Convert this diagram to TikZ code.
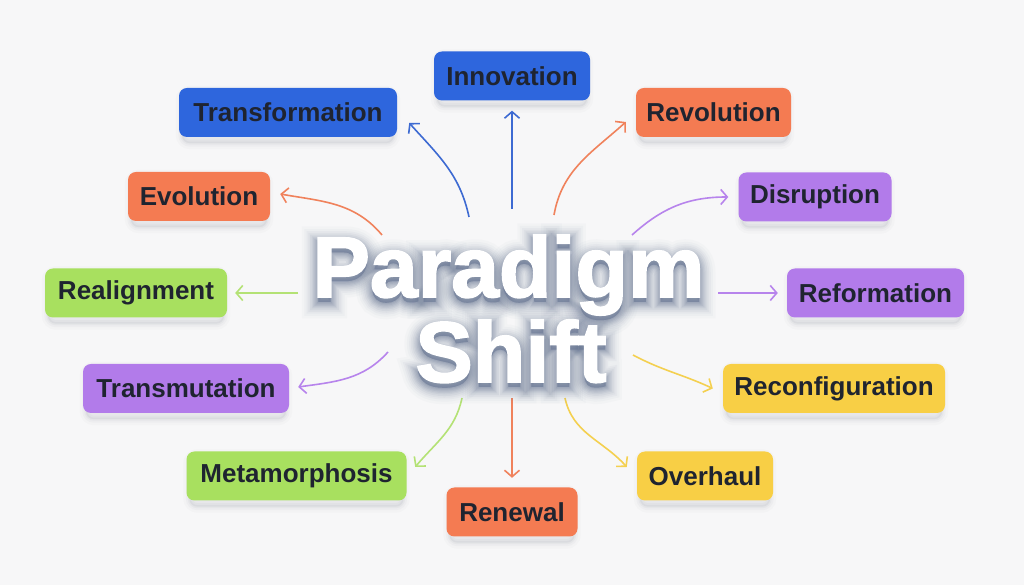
\documentclass[tikz,border=0pt]{standalone}
\usepackage{fontspec}
\setmainfont{Liberation Sans}
\newfontfamily\ttlfont[FakeBold=2]{Liberation Sans Bold}
\newfontfamily\shA[FakeBold=3]{Liberation Sans Bold}
\newfontfamily\shB[FakeBold=6]{Liberation Sans Bold}
\newfontfamily\shC[FakeBold=9]{Liberation Sans Bold}
\newfontfamily\shD[FakeBold=12]{Liberation Sans Bold}
\newfontfamily\shE[FakeBold=15]{Liberation Sans Bold}
\newfontfamily\shF[FakeBold=19]{Liberation Sans Bold}
\newfontfamily\shG[FakeBold=23]{Liberation Sans Bold}
\newfontfamily\shH[FakeBold=27]{Liberation Sans Bold}
\newfontfamily\shI[FakeBold=32]{Liberation Sans Bold}
\newfontfamily\shJ[FakeBold=38]{Liberation Sans Bold}
\usetikzlibrary{arrows.meta,calc}
\pgfdeclarelayer{bgl}
\pgfdeclarelayer{shl}
\pgfsetlayers{bgl,shl,main}
\definecolor{bg}{HTML}{F7F7F8}
\definecolor{txt}{HTML}{1F2430}
\definecolor{cblue}{HTML}{2E66DD}
\definecolor{corange}{HTML}{F47B52}
\definecolor{cpurple}{HTML}{B27BEA}
\definecolor{cgreen}{HTML}{A8E05F}
\definecolor{cyellow}{HTML}{F8CF45}
\definecolor{ablue}{HTML}{3D6AD2}
\definecolor{aorange}{HTML}{F0825C}
\definecolor{apurple}{HTML}{B784EC}
\definecolor{agreen}{HTML}{B4E275}
\definecolor{ayellow}{HTML}{F4D050}
\definecolor{tshadow}{HTML}{6A7895}
\definecolor{bshadow}{HTML}{5A6478}
\begin{document}
\begin{tikzpicture}[x=1pt,y=1pt,
  box/.style={rounded corners=8pt, minimum height=49pt, inner sep=0pt,
    font=\fontsize{26}{30}\selectfont\bfseries, text=txt},
  conn/.style={line width=1.6pt, -{Straight Barb[length=6.5pt,width=15pt]}},
  ttl/.style={anchor=base, inner sep=0pt, font=\fontsize{86}{86}\selectfont\ttlfont},
  tsh/.style={anchor=base, inner sep=0pt, text=tshadow},
  shl1/.style={draw=bshadow, line width=12pt, draw opacity=0.025, rounded corners=8pt},
  shl2/.style={draw=bshadow, line width=7pt, draw opacity=0.035, rounded corners=8pt},
  shl3/.style={draw=bshadow, line width=3pt, draw opacity=0.05, rounded corners=8pt},
  shl4/.style={fill=bshadow, fill opacity=0.08, rounded corners=8pt},
]
\begin{pgfonlayer}{bgl}
\fill[bg] (0,0) rectangle (1024,585);
\end{pgfonlayer}
\useasboundingbox (0,0) rectangle (1024,585);

% boxes
\node[box, fill=cblue, minimum width=156pt] (inn) at (512,509) {Innovation};
\node[box, fill=cblue, minimum width=218pt] (trf) at (288,472.5) {Transformation};
\node[box, fill=corange, minimum width=155pt] (rev) at (713.5,472.5) {Revolution};
\node[box, fill=corange, minimum width=142pt] (evo) at (199,388.5) {Evolution};
\node[box, fill=cpurple, minimum width=153pt] (dis) at (815,388) {Disruption};
\node[box, fill=cgreen, minimum width=182pt] (rea) at (136,292) {Realignment};
\node[box, fill=cpurple, minimum width=177pt] (ref) at (875.5,292) {Reformation};
\node[box, fill=cpurple, minimum width=206pt] (trm) at (186,196.5) {Transmutation};
\node[box, fill=cyellow, minimum width=222pt] (rec) at (834,196.5) {Reconfiguration};
\node[box, fill=cgreen, minimum width=220pt] (met) at (296.5,109) {Metamorphosis};
\node[box, fill=cyellow, minimum width=136pt] (ove) at (705,109) {Overhaul};
\node[box, fill=corange, minimum width=131pt] (ren) at (512,73) {Renewal};

% box shadows
\begin{pgfonlayer}{shl}
\foreach \n in {inn,trf,rev,evo,dis,rea,ref,trm,rec,met,ove,ren}{
  \path[shl1] ([shift={(3,-6)}]\n.south west) rectangle ([shift={(-3,-4)}]\n.north east);
  \path[shl2] ([shift={(3,-6)}]\n.south west) rectangle ([shift={(-3,-4)}]\n.north east);
  \path[shl3] ([shift={(3,-6)}]\n.south west) rectangle ([shift={(-3,-4)}]\n.north east);
  \path[shl4] ([shift={(3,-6)}]\n.south west) rectangle ([shift={(-3,-4)}]\n.north east);
}
\end{pgfonlayer}

% start points
\coordinate (s1) at (469,368);
\coordinate (s2) at (512,376);
\coordinate (s3) at (554,370);
\coordinate (s4) at (382,350);
\coordinate (s5) at (632,350);
\coordinate (s6) at (298,292);
\coordinate (s7) at (718,292);
\coordinate (s8) at (388,233);
\coordinate (s9) at (633,230);
\coordinate (s10) at (462,187);
\coordinate (s11) at (512,187);
\coordinate (s12) at (565,187);

% connectors
\draw[conn, ablue] (s1) to[out=102,in=-48] ([shift={(12,-10.5)}]trf.east);
\draw[conn, ablue] (s2) -- ([shift={(0,-10)}]inn.south);
\draw[conn, aorange] (s3) to[out=80,in=-138] ([shift={(-10,-9.5)}]rev.west);
\draw[conn, aorange] (s4) to[out=130,in=-10] ([shift={(10,2.5)}]evo.east);
\draw[conn, apurple] (s5) to[out=42,in=180] ([shift={(-10,0)}]dis.west);
\draw[conn, agreen] (s6) -- ([shift={(8,0)}]rea.east);
\draw[conn, apurple] (s7) -- ([shift={(-9,0)}]ref.west);
\draw[conn, apurple] (s8) to[out=-132,in=8] ([shift={(9,1.5)}]trm.east);
\draw[conn, ayellow] (s9) to[out=-28,in=155] ([shift={(-10,0)}]rec.west);
\draw[conn, agreen] (s10) to[out=-102,in=50] ([shift={(8.5,9)}]met.east);
\draw[conn, aorange] (s11) -- ([shift={(0,9.5)}]ren.north);
\draw[conn, ayellow] (s12) to[out=-78,in=132] ([shift={(-10,9)}]ove.west);

% title shadow (emboldened copies, soft halo)
\foreach \f/\op [count=\i] in {\shJ/0.03,\shI/0.04,\shH/0.05,\shG/0.06,\shF/0.08,\shE/0.09,\shD/0.10,\shC/0.12,\shB/0.14,\shA/0.16}{
  \node[tsh, text opacity=\op, font=\fontsize{86}{86}\selectfont\f] (psh\i) at (508.5,283) {Paradigm};
  \node[tsh, text opacity=\op, font=\fontsize{86}{86}\selectfont\f] (ssh\i) at (511,198) {Shift};
}
% title
\node[ttl, text=white] (t1) at (508.5,288) {Paradigm};
\node[ttl, text=white] (t2) at (511,203) {Shift};
\end{tikzpicture}
\end{document}
